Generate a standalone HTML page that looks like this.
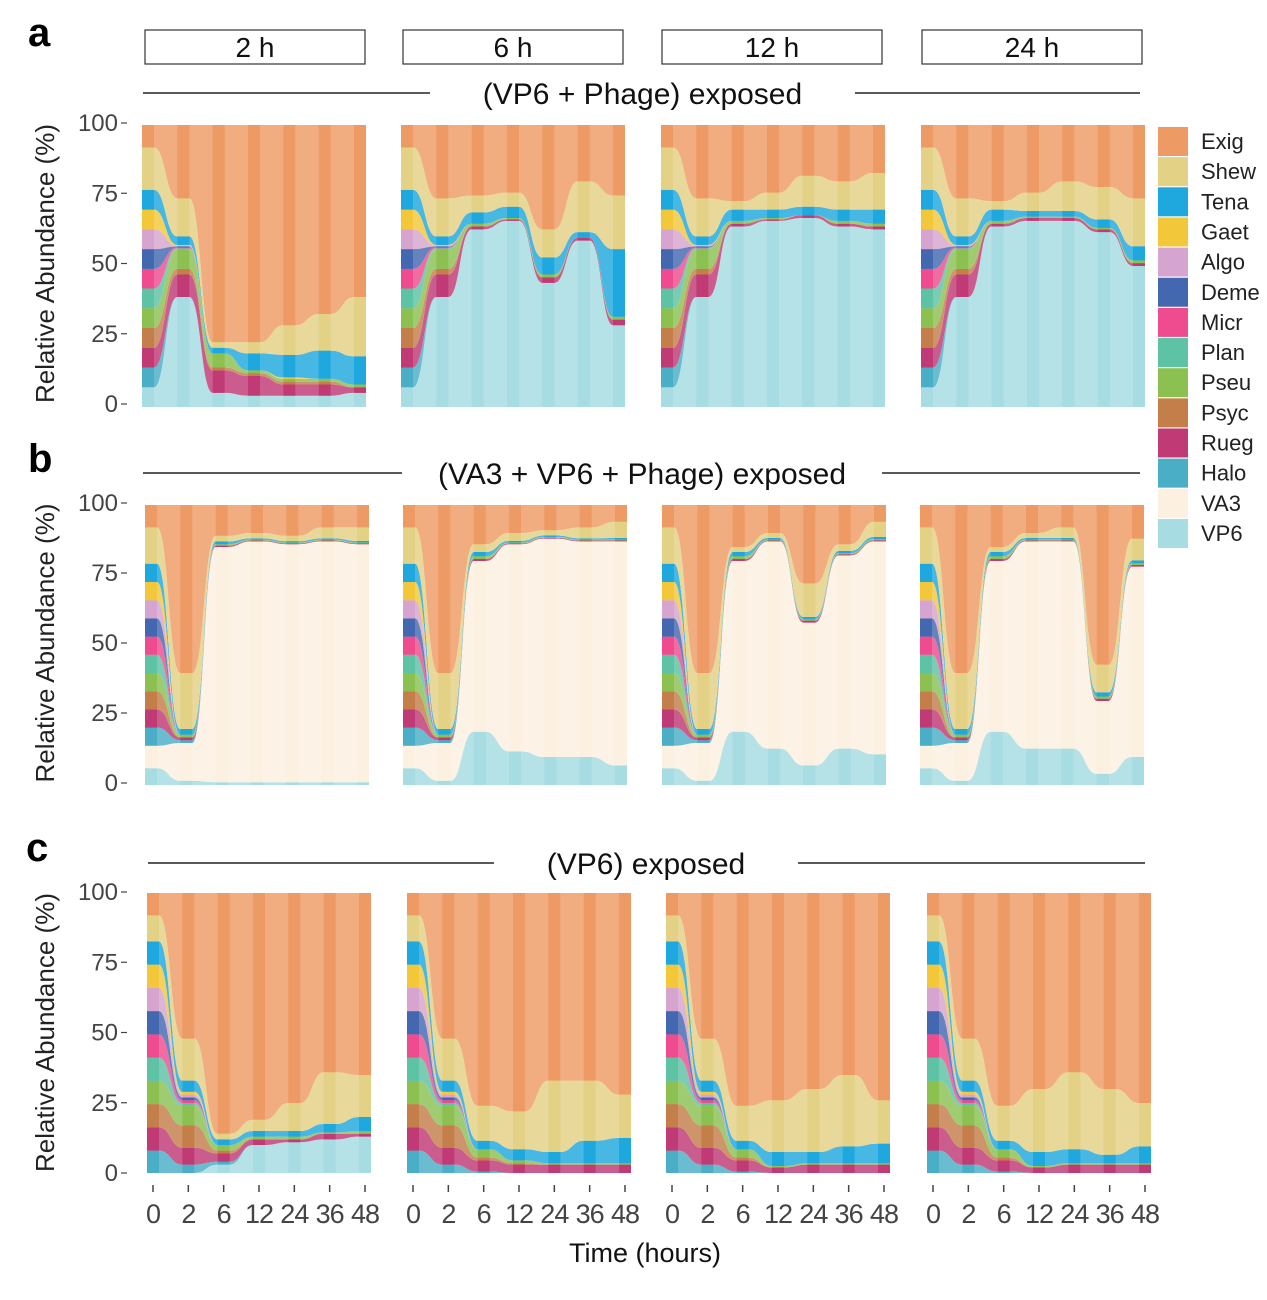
<!DOCTYPE html>
<html><head><meta charset="utf-8">
<style>
html,body{margin:0;padding:0;background:#fff;}
svg text{font-family:"Liberation Sans",Arial,sans-serif;}
</style></head>
<body>
<svg id="s" width="1267" height="1295" xmlns="http://www.w3.org/2000/svg"></svg>
<script>
const svg=document.getElementById('s');
let html='';
const sp=['VP6','VA3','Halo','Rueg','Psyc','Pseu','Plan','Micr','Deme','Algo','Gaet','Tena','Shew','Exig'];
const col={Exig:'#EE9A64',Shew:'#E3D186',Tena:'#1FA8DE',Gaet:'#F3C73A',Algo:'#D6A5CF',Deme:'#4468B0',Micr:'#EF4C90',Plan:'#5EC2A4',Pseu:'#8CC152',Psyc:'#C47E4A',Rueg:'#C03A76',Halo:'#4AAFC6',VA3:'#FCF0E0',VP6:'#A6DCE2'};
const A0={VP6:7,Halo:7,Rueg:7,Psyc:7,Pseu:7,Plan:7,Micr:7,Deme:7,Algo:7,Gaet:7,Tena:7,S:92};
const A1={VP6:39,Rueg:8,Psyc:2,Pseu:7,Plan:.3,Micr:.3,Deme:.3,Algo:.3,Gaet:.3,Tena:3,S:74};
const B0={VP6:6,VA3:8,Halo:6.5,Rueg:6.5,Psyc:6.5,Pseu:6.5,Plan:6.5,Micr:6.5,Deme:6.5,Algo:6.5,Gaet:6.5,Tena:6.5,S:92};
const B1={VP6:1.5,VA3:13.5,Halo:1,Rueg:1,Pseu:1,Tena:2,S:40};
const C0={Halo:8,Rueg:8.3,Psyc:8.3,Pseu:8.3,Plan:8.3,Micr:8.3,Deme:8.3,Algo:8.3,Gaet:8.3,Tena:8.3,S:92};
const C1={Halo:3,Rueg:6,Psyc:8,Pseu:7,Plan:1,Micr:1,Deme:1,Algo:1,Gaet:1,Tena:4,S:48};
const panels=[
 [142,125,407,[A0,A1,{VP6:5,Rueg:8,Psyc:1,Pseu:5,Tena:2,S:23},{VP6:4,Rueg:7,Psyc:1,Pseu:1,Tena:6,S:23},{VP6:4,Rueg:4,Psyc:1,Pseu:1,Gaet:.5,Tena:8,S:29},{VP6:4,Rueg:4,Psyc:1,Pseu:1,Tena:10,S:33},{VP6:5,Rueg:2,Pseu:1,Tena:10,S:39}]],
 [401,125,407,[A0,A1,{VP6:63,Rueg:1,Pseu:1,Tena:4,S:75},{VP6:66,Rueg:.5,Pseu:.5,Tena:4,S:76},{VP6:44,Rueg:2,Pseu:1,Tena:6,S:63},{VP6:59,Rueg:1,Tena:2,S:80},{VP6:29,Rueg:2,Pseu:1,Tena:24,S:75}]],
 [661,125,407,[A0,A1,{VP6:64,Rueg:1,Pseu:1,Tena:4,S:73},{VP6:66,Rueg:.5,Pseu:.5,Tena:3,S:76},{VP6:67,Rueg:1,Tena:3,S:82},{VP6:64,Rueg:1,Pseu:1,Tena:4,S:80},{VP6:63,Rueg:1,Pseu:1,Tena:5,S:83}]],
 [921,125,407,[A0,A1,{VP6:64,Rueg:1,Pseu:1,Tena:4,S:73},{VP6:66,Rueg:1,Pseu:.5,Tena:2,S:76},{VP6:66,Rueg:1,Pseu:.5,Tena:2,S:80},{VP6:62,Rueg:1,Pseu:.5,Tena:3,S:78},{VP6:50,Rueg:1,Pseu:1,Tena:5,S:74}]],
 [145,505,785,[B0,B1,{VP6:1,VA3:84,Rueg:.5,Pseu:.5,Tena:1,S:89},{VP6:1,VA3:86,Rueg:.3,Pseu:.3,Tena:.5,S:90},{VP6:1,VA3:85,Rueg:.3,Pseu:.3,Tena:.5,S:89},{VP6:1,VA3:86,Rueg:.3,Pseu:.3,Tena:.5,S:92},{VP6:1,VA3:85,Rueg:.3,Pseu:.3,Tena:.6,S:92}]],
 [403,505,785,[B0,B1,{VP6:19,VA3:61,Rueg:.7,Pseu:1,Tena:1.5,S:86},{VP6:12,VA3:74,Rueg:.3,Pseu:.3,Tena:.6,S:90},{VP6:10,VA3:78,Rueg:.3,Pseu:.3,Tena:.5,S:91},{VP6:10,VA3:77,Rueg:.3,Pseu:.3,Tena:.5,S:92},{VP6:7,VA3:80,Rueg:.3,Pseu:.3,Tena:.6,S:94}]],
 [662,505,785,[B0,B1,{VP6:19,VA3:61,Rueg:.7,Pseu:1,Tena:1.5,S:85},{VP6:13,VA3:74,Rueg:.3,Pseu:.3,Tena:.6,S:90},{VP6:7,VA3:51,Rueg:.7,Pseu:.5,Tena:.8,S:72},{VP6:13,VA3:69,Rueg:.4,Pseu:.4,Tena:.8,S:86},{VP6:11,VA3:76,Rueg:.4,Pseu:.4,Tena:.8,S:94}]],
 [920,505,785,[B0,B1,{VP6:19,VA3:61,Rueg:.7,Pseu:1,Tena:1.5,S:85},{VP6:13,VA3:74,Rueg:.3,Pseu:.3,Tena:.6,S:90},{VP6:13,VA3:74,Rueg:.3,Pseu:.3,Tena:.6,S:92},{VP6:4,VA3:26,Rueg:.8,Pseu:.8,Tena:1.5,S:43},{VP6:10,VA3:68,Rueg:.6,Pseu:.6,Tena:1,S:88}]],
 [147,893,1173,[C0,C1,{VP6:3,Halo:1,Rueg:3,Psyc:1,Pseu:2,Tena:2,S:14},{VP6:10,Rueg:2,Pseu:1,Tena:2,S:19},{VP6:11,Rueg:1,Pseu:1,Tena:2,S:25},{VP6:12,Rueg:2,Pseu:.5,Tena:3,S:36},{VP6:13,Rueg:1,Pseu:1,Tena:5,S:35}]],
 [407,893,1173,[C0,C1,{Halo:.5,Rueg:4,Psyc:1,Pseu:3,Tena:3,S:24},{Rueg:3,Psyc:.5,Pseu:1,Tena:4,S:22},{Rueg:3,Pseu:.5,Tena:4,S:33},{Rueg:3,Pseu:.5,Tena:8,S:33},{Rueg:3,Pseu:.5,Tena:9,S:28}]],
 [666,893,1173,[C0,C1,{Halo:.5,Rueg:4,Psyc:1,Pseu:3,Tena:3,S:24},{Rueg:2,Pseu:.5,Tena:5,S:26},{Rueg:3,Pseu:.5,Tena:4,S:30},{Rueg:3,Pseu:.5,Tena:6,S:35},{Rueg:3,Pseu:.5,Tena:7,S:26}]],
 [927,893,1173,[C0,C1,{Halo:.5,Rueg:4,Psyc:1,Pseu:3,Tena:3,S:24},{Rueg:2,Pseu:.5,Tena:5,S:30},{Rueg:3,Pseu:.5,Tena:5,S:36},{Rueg:3,Pseu:.5,Tena:3,S:30},{Rueg:3,Pseu:.5,Tena:6,S:25}]],
];
const W=224,BW=12,STEP=(W-BW)/6;
let cid=0;
function edge(xs,ys,rev){
  let d='';const n=xs.length;
  if(!rev){
    d+=`L${xs[0]},${ys[0]}`;
    for(let i=0;i<n;i++){
      d+=`L${xs[i]+BW},${ys[i]}`;
      if(i<n-1){const m=(xs[i]+BW+xs[i+1])/2;d+=`C${m},${ys[i]} ${m},${ys[i+1]} ${xs[i+1]},${ys[i+1]}`;}
    }
  } else {
    for(let i=n-1;i>=0;i--){
      d+=`L${xs[i]+BW},${ys[i]}L${xs[i]},${ys[i]}`;
      if(i>0){const m=(xs[i-1]+BW+xs[i])/2;d+=`C${m},${ys[i]} ${m},${ys[i-1]} ${xs[i-1]+BW},${ys[i-1]}`;}
    }
  }
  return d;
}
panels.forEach(([x0,yT,yB,data])=>{
  const xs=[0,1,2,3,4,5,6].map(i=>x0+i*STEP);
  const sc=v=>yB-(yB-yT)*v/100;
  const cum=data.map(o=>{
    const vals={};let s=0;
    sp.forEach(k=>{
      let v;
      if(k==='Shew') v=Math.max(0,o.S-s);
      else if(k==='Exig') v=100-s;
      else v=o[k]||0;
      vals[k]=[s,s+v];s+=v;
    });
    return vals;
  });
  let paths='';
  sp.forEach(k=>{
    const lo=cum.map(c=>sc(c[k][0])),hi=cum.map(c=>sc(c[k][1]));
    let d='M'+xs[0]+','+lo[0]+edge(xs,hi,false)+edge(xs,lo,true)+'Z';
    paths+=`<path d="${d}" fill="${col[k]}"/>`;
  });
  cid++;
  let clip=`<clipPath id="c${cid}">`+xs.map(x=>`<rect x="${x}" y="${yT}" width="${BW}" height="${yB-yT}"/>`).join('')+'</clipPath>';
  html+=`<defs>${clip}</defs><g opacity="0.82">${paths}</g><g clip-path="url(#c${cid})">${paths}</g>`;
});
const rows=[[123,404],[503,783],[892,1173]];
rows.forEach(([t,b])=>{
  [100,75,50,25,0].forEach(v=>{
    const y=b-(b-t)*v/100;
    html+=`<text x="118" y="${y+8}" font-size="24" fill="#444" text-anchor="end">${v}</text><line x1="121" x2="127" y1="${y}" y2="${y}" stroke="#444" stroke-width="1.2"/>`;
  });
  const cy=(t+b)/2;
  html+=`<text transform="translate(54,${cy}) rotate(-90)" font-size="26" fill="#222" text-anchor="middle">Relative Abundance (%)</text>`;
});
html+=`<text x="28" y="46" font-size="40" font-weight="bold">a</text><text x="28" y="472" font-size="40" font-weight="bold">b</text><text x="26" y="861" font-size="40" font-weight="bold">c</text>`;
[[145,'2 h'],[403,'6 h'],[662,'12 h'],[922,'24 h']].forEach(([x,t])=>{
  html+=`<rect x="${x}" y="30" width="220" height="34" fill="#fff" stroke="#333" stroke-width="1.2"/><text x="${x+110}" y="57" font-size="28" text-anchor="middle" fill="#111">${t}</text>`;
});
function title(y,x1,x2,x3,x4,t){
  html+=`<line x1="${x1}" x2="${x2}" y1="${y}" y2="${y}" stroke="#222" stroke-width="1.5"/><line x1="${x3}" x2="${x4}" y1="${y}" y2="${y}" stroke="#222" stroke-width="1.5"/><text x="${(x2+x3)/2}" y="${y+11}" font-size="30" text-anchor="middle" fill="#111">${t}</text>`;
}
title(93,143,430,855,1140,'(VP6 + Phage) exposed');
title(473,143,402,882,1140,'(VA3 + VP6 + Phage) exposed');
title(863,148,494,798,1145,'(VP6) exposed');
const leg=['Exig','Shew','Tena','Gaet','Algo','Deme','Micr','Plan','Pseu','Psyc','Rueg','Halo','VA3','VP6'];
leg.forEach((k,i)=>{
  const y=127+i*30.15;
  html+=`<rect x="1158" y="${y}" width="30" height="29" fill="${col[k]}"/><text x="1201" y="${y+22}" font-size="22" fill="#222">${k}</text>`;
});
[147,407,666,927].forEach(x0=>{
  ['0','2','6','12','24','36','48'].forEach((t,i)=>{
    const x=x0+6+i*STEP;
    html+=`<line x1="${x}" x2="${x}" y1="1185" y2="1192" stroke="#444" stroke-width="1.5"/><text x="${x}" y="1223" font-size="27" fill="#444" text-anchor="middle" letter-spacing="-1">${t}</text>`;
  });
});
html+=`<text x="645" y="1262" font-size="27" fill="#111" text-anchor="middle">Time (hours)</text>`;
svg.innerHTML=html;
</script>
</body></html>
